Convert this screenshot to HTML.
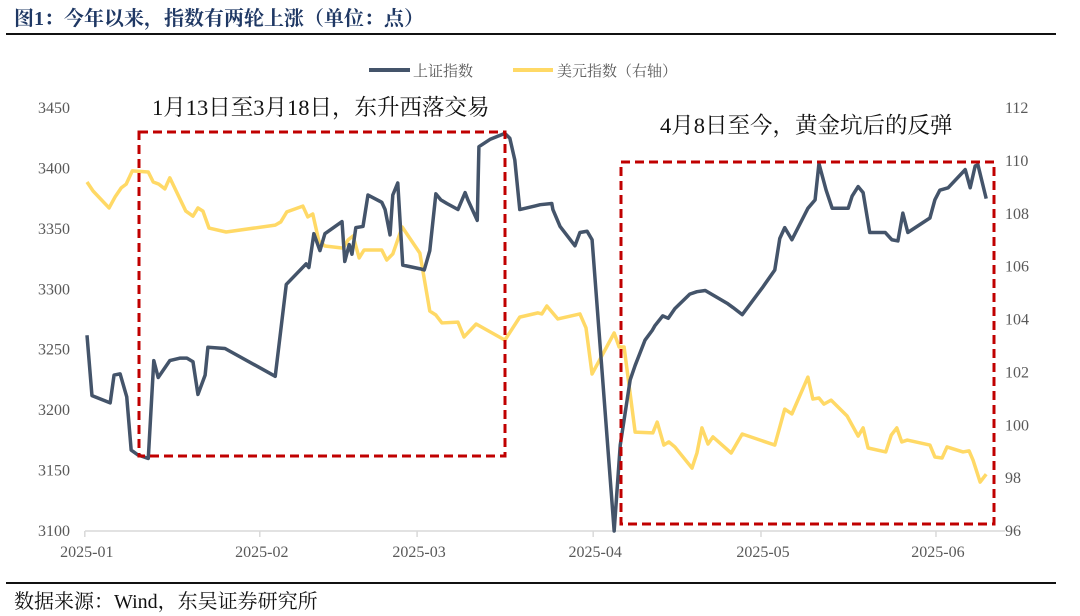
<!DOCTYPE html>
<html><head><meta charset="utf-8">
<style>
body{margin:0;background:#fff;width:1080px;height:616px;overflow:hidden;font-family:"Liberation Serif","Noto Serif CJK SC",serif;}
</style></head>
<body>
<svg id="chart" width="1080" height="616" xmlns="http://www.w3.org/2000/svg" style="position:absolute;left:0;top:0">
<text x="14" y="25" font-size="20" font-weight="bold" fill="#1f3864" font-family="Liberation Serif, Noto Serif CJK SC, serif">图1：今年以来，指数有两轮上涨（单位：点）</text>
<rect x="6" y="33" width="1050" height="2" fill="#111"/>
<g>
<line x1="369" y1="70" x2="410" y2="70" stroke="#44546a" stroke-width="4"/>
<text x="413" y="76" font-size="15" fill="#595959" font-family="Liberation Serif, Noto Serif CJK SC, serif">上证指数</text>
<line x1="513" y1="70" x2="553" y2="70" stroke="#ffd966" stroke-width="4"/>
<text x="557" y="76" font-size="15" fill="#595959" font-family="Liberation Serif, Noto Serif CJK SC, serif">美元指数（右轴）</text>
</g>
<g id="axes"></g>
<g id="marks"></g>
<rect x="139" y="132" width="366" height="324" fill="none" stroke="#c00000" stroke-width="3" stroke-dasharray="9,5"/>
<rect x="621" y="162" width="373" height="362" fill="none" stroke="#c00000" stroke-width="3" stroke-dasharray="9,5"/>
<text x="152" y="115" font-size="22.5" fill="#111" font-family="Liberation Serif, Noto Serif CJK SC, serif">1月13日至3月18日，东升西落交易</text>
<text x="660" y="133" font-size="22.5" fill="#111" font-family="Liberation Serif, Noto Serif CJK SC, serif">4月8日至今，黄金坑后的反弹</text>
<rect x="6" y="582" width="1050" height="2" fill="#111"/>
<text x="14" y="608" font-size="20" fill="#111" font-family="Liberation Serif, Noto Serif CJK SC, serif">数据来源：Wind，东吴证券研究所</text>
</svg>
<script>
const shDays=[0,0.9,4.2,4.9,6.0,7.2,8.0,9.2,11.1,12.1,12.9,15.0,16.8,18.1,19.2,20.1,21.4,21.9,25.0,34.1,36.1,38.0,39.7,40.2,41.1,42.2,43.1,46.2,46.7,47.5,48.0,48.7,50.0,50.9,53.4,54.0,54.9,55.4,56.3,57.2,60.3,61.1,62.1,63.2,64.1,65.2,67.2,68.5,69.0,70.7,71.0,73.0,75.7,76.6,77.5,78.4,81.2,82.1,84.2,84.4,85.7,88.4,89.3,90.6,91.5,95.5,96.6,98.4,99.3,101.1,102.4,102.9,104.3,105.3,106.5,109.2,110.5,112.0,116.1,117.0,118.7,122.3,124.6,125.5,126.4,127.7,130.6,131.9,132.6,133.9,135.0,137.9,138.6,139.7,140.6,141.8,144.6,145.8,146.9,147.8,148.7,152.7,153.6,154.5,156.0,159.1,160.0,160.9,161.4,162.9];
const shValues=[3262,3212,3206,3229,3230,3211,3167,3163,3160,3241,3227,3241,3243,3243,3240,3213,3229,3252,3251,3228,3304,3313,3321,3318,3346,3332,3346,3356,3323,3337,3329,3351,3352,3378,3372,3366,3345,3378,3388,3320,3317,3316,3332,3379,3374,3371,3366,3380,3374,3357,3418,3424,3429,3425,3407,3366,3369,3370,3371,3366,3352,3336,3347,3348,3341,3100,3171,3225,3237,3258,3266,3270,3278,3276,3284,3296,3298,3299,3288,3285,3279,3301,3316,3342,3351,3341,3367,3374,3404,3382,3367,3367,3377,3385,3380,3347,3347,3341,3340,3363,3347,3359,3374,3382,3384,3399,3384,3402,3403,3375];
const usdDays=[0,1.1,4.0,5.1,6.2,7.1,8.2,11.1,12.0,13.0,14.1,15.0,17.9,19.2,20.1,21.0,22.1,25.2,34.1,35.1,36.2,39.1,40.0,40.9,42.0,43.1,46.4,47.3,48.2,49.3,50.2,53.4,54.3,55.4,57.1,60.3,62.1,63.2,64.3,67.2,68.3,70.5,75.7,78.4,81.7,82.4,83.3,85.3,89.3,90.4,91.5,95.5,96.4,97.3,99.3,102.5,103.3,104.5,105.4,106.5,109.6,110.5,111.4,112.5,113.4,116.7,118.7,124.6,126.4,127.7,130.6,131.5,132.6,133.5,134.8,137.7,139.7,140.6,141.5,144.7,145.7,146.7,147.6,148.6,152.7,153.6,154.9,155.8,158.7,159.8,160.5,161.8,162.9];
const usdValues=[109.20,108.86,108.22,108.64,108.98,109.12,109.62,109.58,109.20,109.12,108.94,109.36,108.10,107.91,108.22,108.10,107.46,107.31,107.57,107.69,108.07,108.29,107.88,107.99,106.97,106.78,106.70,107.01,107.16,106.33,106.63,106.63,106.25,106.48,107.50,106.51,104.32,104.17,103.87,103.90,103.34,103.83,103.22,104.09,104.25,104.21,104.51,104.02,104.21,103.68,101.94,103.49,102.96,102.96,99.74,99.71,100.12,99.25,99.37,99.18,98.38,98.95,99.90,99.29,99.56,98.95,99.67,99.25,100.61,100.43,101.82,100.99,101.03,100.80,100.95,100.35,99.59,99.90,99.14,98.99,99.63,99.90,99.37,99.44,99.25,98.80,98.76,99.18,98.99,99.03,98.69,97.85,98.15];
const leftTicks=[3100,3150,3200,3250,3300,3350,3400,3450];
const rightTicks=[96,98,100,102,104,106,108,110,112];
const xTickDays=[-0.4,31.3,59.8,91.7,122.1,153.8];
const xTickLabels=["2025-01","2025-02","2025-03","2025-04","2025-05","2025-06"];

const NS="http://www.w3.org/2000/svg";
const X=d=>87+5.52*d;
const YL=v=>531-(v-3100)*(423/350);
const YR=v=>531-(v-96)*(423/16);
function mk(tag,attrs,parent){const e=document.createElementNS(NS,tag);for(const k in attrs)e.setAttribute(k,attrs[k]);parent.appendChild(e);return e;}
const axes=document.getElementById('axes'),marks=document.getElementById('marks');
const base=mk('line',{x1:85,y1:531,x2:1005,y2:531,stroke:'#d9d9d9','stroke-width':1.5},axes);


const tf='Liberation Serif, Noto Serif CJK SC, serif';
xTickDays.forEach((d,i)=>{
  const t=mk('line',{x1:X(d),y1:531,x2:X(d),y2:537,stroke:'#d9d9d9','stroke-width':1.5},axes);
  
  
  const l=mk('text',{x:X(d)+2,y:557,'text-anchor':'middle','font-size':16,fill:'#595959','font-family':tf},axes);
  
  
  l.textContent=xTickLabels[i];
});
leftTicks.forEach(v=>{
  const l=mk('text',{x:70,y:YL(v)+5,'text-anchor':'end','font-size':16,fill:'#595959','font-family':tf},axes);
  
  
  l.textContent=v;
});
rightTicks.forEach(v=>{
  const l=mk('text',{x:1005,y:YR(v)+5,'text-anchor':'start','font-size':16,fill:'#595959','font-family':tf},axes);
  
  
  l.textContent=v;
});
const usd=mk('polyline',{points:usdDays.map((d,i)=>X(d)+','+YR(usdValues[i])).join(' '),fill:'none',stroke:'#ffd966','stroke-width':3.5,'stroke-linejoin':'round'},marks);


const sh=mk('polyline',{points:shDays.map((d,i)=>X(d)+','+YL(shValues[i])).join(' '),fill:'none',stroke:'#44546a','stroke-width':3.5,'stroke-linejoin':'round'},marks);


</script>
</body></html>
